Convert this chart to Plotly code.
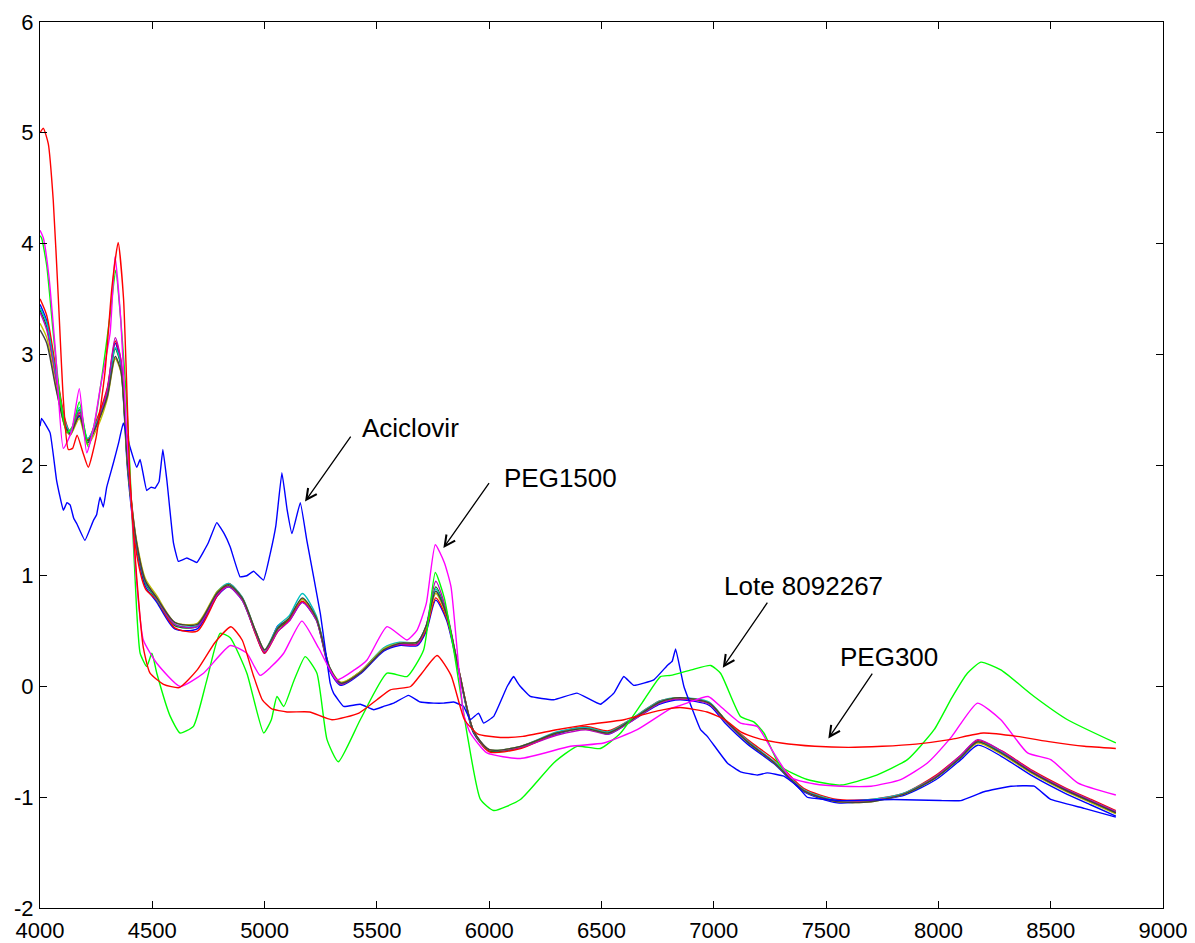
import plotly.graph_objects as go

# ---------------- data ----------------
# shared wavenumber grid of the bundle of batch spectra
bundle_x = [4000, 4030, 4070, 4110, 4135, 4175, 4212, 4260, 4300, 4335, 4360, 4390, 4430, 4470, 4520,
            4600, 4700, 4790, 4840, 4900, 4960, 5000, 5060, 5110, 5168, 5230, 5290, 5340, 5430, 5530,
            5600, 5680, 5720, 5762, 5810, 5870, 5930, 6000, 6140, 6300, 6430, 6530, 6620, 6760, 6850,
            6980, 7050, 7150, 7270, 7400, 7550, 7700, 7850, 7990, 8100, 8175, 8280, 8420, 8560, 8680, 8790]

bundle_blue = [3.45, 3.30, 2.85, 2.40, 2.28, 2.44, 2.22, 2.42, 2.68, 3.10, 2.90, 1.95, 1.25, 0.90, 0.76,
               0.52, 0.52, 0.82, 0.90, 0.78, 0.48, 0.30, 0.55, 0.60, 0.76, 0.60, 0.14, 0.01, 0.12, 0.32,
               0.37, 0.37, 0.50, 0.78, 0.60, 0.08, -0.42, -0.58, -0.55, -0.43, -0.37, -0.43, -0.33, -0.16, -0.12,
               -0.17, -0.33, -0.52, -0.70, -0.95, -1.05, -1.03, -0.98, -0.84, -0.66, -0.53, -0.63, -0.81, -0.96, -1.07, -1.17]
bundle_green = [3.40, 3.25, 2.80, 2.38, 2.30, 2.50, 2.22, 2.40, 2.65, 3.05, 2.90, 2.00, 1.28, 0.93, 0.78,
                0.55, 0.54, 0.84, 0.91, 0.79, 0.49, 0.31, 0.52, 0.61, 0.79, 0.62, 0.16, 0.02, 0.13, 0.33,
                0.38, 0.39, 0.54, 0.90, 0.66, 0.09, -0.41, -0.58, -0.55, -0.42, -0.37, -0.41, -0.32, -0.14, -0.10,
                -0.15, -0.31, -0.50, -0.69, -0.94, -1.04, -1.03, -0.97, -0.82, -0.64, -0.50, -0.60, -0.78, -0.93, -1.04, -1.14]
bundle_red = [3.50, 3.35, 2.88, 2.42, 2.30, 2.47, 2.23, 2.45, 2.70, 3.12, 2.95, 2.05, 1.20, 0.88, 0.78,
              0.53, 0.50, 0.82, 0.93, 0.80, 0.47, 0.30, 0.50, 0.60, 0.77, 0.61, 0.16, 0.03, 0.14, 0.34,
              0.38, 0.38, 0.52, 0.80, 0.62, 0.10, -0.40, -0.59, -0.56, -0.42, -0.36, -0.40, -0.31, -0.13, -0.11,
              -0.15, -0.30, -0.48, -0.66, -0.92, -1.02, -1.02, -0.96, -0.80, -0.62, -0.49, -0.58, -0.76, -0.91, -1.02, -1.12]
bundle_cyan = [3.42, 3.28, 2.82, 2.40, 2.30, 2.52, 2.24, 2.42, 2.66, 3.06, 2.92, 2.02, 1.28, 0.94, 0.79,
               0.56, 0.55, 0.86, 0.93, 0.81, 0.50, 0.33, 0.55, 0.64, 0.84, 0.64, 0.17, 0.03, 0.14, 0.35,
               0.40, 0.40, 0.55, 0.88, 0.65, 0.09, -0.40, -0.57, -0.54, -0.41, -0.37, -0.41, -0.31, -0.13, -0.10,
               -0.14, -0.30, -0.49, -0.68, -0.93, -1.03, -1.02, -0.96, -0.81, -0.63, -0.50, -0.59, -0.77, -0.92, -1.03, -1.13]
bundle_purple = [3.38, 3.22, 2.78, 2.35, 2.27, 2.48, 2.20, 2.40, 2.68, 3.15, 2.95, 2.05, 1.30, 0.95, 0.80,
                 0.56, 0.54, 0.83, 0.90, 0.78, 0.48, 0.31, 0.50, 0.59, 0.76, 0.60, 0.15, 0.02, 0.13, 0.33,
                 0.38, 0.38, 0.55, 0.95, 0.68, 0.10, -0.40, -0.57, -0.55, -0.44, -0.39, -0.43, -0.33, -0.15, -0.11,
                 -0.16, -0.31, -0.50, -0.69, -0.94, -1.04, -1.03, -0.97, -0.81, -0.62, -0.48, -0.58, -0.77, -0.92, -1.03, -1.13]
bundle_olive = [3.28, 3.15, 2.72, 2.35, 2.27, 2.42, 2.18, 2.36, 2.60, 2.96, 2.84, 2.00, 1.32, 0.97, 0.82,
                0.58, 0.57, 0.86, 0.92, 0.80, 0.50, 0.33, 0.53, 0.62, 0.79, 0.62, 0.17, 0.04, 0.14, 0.34,
                0.39, 0.40, 0.54, 0.84, 0.64, 0.10, -0.40, -0.57, -0.54, -0.42, -0.38, -0.42, -0.32, -0.14, -0.10,
                -0.15, -0.30, -0.50, -0.69, -0.94, -1.04, -1.04, -0.97, -0.82, -0.64, -0.51, -0.61, -0.79, -0.94, -1.05, -1.15]
bundle_gray = [3.22, 3.10, 2.70, 2.36, 2.28, 2.45, 2.20, 2.40, 2.62, 2.98, 2.85, 2.00, 1.30, 0.95, 0.80,
               0.58, 0.56, 0.85, 0.92, 0.80, 0.50, 0.33, 0.53, 0.62, 0.80, 0.62, 0.17, 0.03, 0.13, 0.33,
               0.39, 0.40, 0.55, 0.86, 0.65, 0.10, -0.40, -0.57, -0.54, -0.42, -0.38, -0.42, -0.32, -0.14, -0.10,
               -0.15, -0.30, -0.50, -0.69, -0.94, -1.04, -1.04, -0.97, -0.82, -0.64, -0.50, -0.60, -0.78, -0.93, -1.04, -1.14]

# PEG300
peg300_x = [4000, 4015, 4037, 4059, 4082, 4104, 4126, 4145, 4165, 4190, 4215, 4250, 4290, 4320, 4348, 4372,
            4400, 4430, 4460, 4490, 4550, 4620, 4700, 4780, 4850, 4900, 4950, 4990, 5030, 5100, 5200, 5300,
            5420, 5500, 5560, 5650, 5700, 5768, 5830, 5890, 5950, 6050, 6150, 6300, 6450, 6600, 6750, 6850,
            6970, 7050, 7120, 7200, 7300, 7450, 7600, 7750, 7900, 8050, 8200, 8350, 8500, 8650, 8790]
peg300_y = [5.00, 5.04, 4.90, 4.39, 3.49, 2.59, 2.14, 2.15, 2.27, 2.12, 1.98, 2.25, 2.85, 3.60, 4.01, 3.50,
            1.90, 1.00, 0.35, 0.12, 0.02, -0.01, 0.15, 0.40, 0.54, 0.42, 0.10, -0.12, -0.20, -0.23, -0.23, -0.30,
            -0.24, -0.12, -0.03, 0.00, 0.12, 0.28, 0.10, -0.30, -0.43, -0.46, -0.45, -0.39, -0.34, -0.30, -0.22, -0.19,
            -0.23, -0.30, -0.41, -0.47, -0.51, -0.54, -0.55, -0.54, -0.52, -0.48, -0.42, -0.45, -0.50, -0.54, -0.56]

# PEG1500
peg1500_x = [4000, 4015, 4040, 4070, 4104, 4140, 4175, 4208, 4240, 4267, 4312, 4334, 4360, 4386, 4400, 4430,
             4460, 4520, 4624, 4728, 4847, 4921, 4980, 5030, 5085, 5166, 5240, 5322, 5400, 5456, 5545, 5634,
             5679, 5720, 5760, 5800, 5830, 5886, 5916, 5990, 6139, 6362, 6510, 6659, 6808, 6880, 6975, 7030,
             7119, 7193, 7267, 7342, 7450, 7565, 7700, 7832, 7951, 8060, 8174, 8278, 8397, 8500, 8620, 8790]
peg1500_y = [4.12, 4.05, 3.70, 3.00, 2.15, 2.30, 2.69, 2.11, 2.35, 2.68, 3.19, 3.88, 3.30, 2.29, 1.86, 0.95,
             0.42, 0.21, 0.00, 0.12, 0.37, 0.30, 0.10, 0.18, 0.30, 0.59, 0.35, 0.06, 0.15, 0.24, 0.54, 0.42,
             0.51, 0.75, 1.28, 1.12, 0.90, -0.25, -0.42, -0.60, -0.65, -0.54, -0.51, -0.39, -0.20, -0.15, -0.09, -0.18,
             -0.33, -0.36, -0.60, -0.82, -0.88, -0.90, -0.90, -0.84, -0.69, -0.45, -0.15, -0.30, -0.60, -0.66, -0.87, -0.98]

# Lote 8092267
lote_x = [4000, 4007, 4030, 4059, 4090, 4119, 4145, 4175, 4215, 4250, 4282, 4315, 4337, 4360, 4385, 4400,
          4430, 4446, 4475, 4498, 4520, 4580, 4624, 4683, 4743, 4802, 4847, 4921, 4996, 5030, 5055, 5085,
          5130, 5181, 5233, 5278, 5328, 5426, 5545, 5634, 5708, 5760, 5800, 5842, 5901, 5961, 6020, 6139,
          6287, 6391, 6495, 6585, 6680, 6763, 6808, 6900, 6986, 7030, 7119, 7178, 7223, 7297, 7416, 7565,
          7712, 7862, 7981, 8060, 8129, 8189, 8278, 8426, 8575, 8790]
lote_y = [4.07, 4.05, 3.80, 3.19, 2.60, 2.29, 2.35, 2.57, 2.16, 2.45, 2.89, 3.40, 3.76, 3.30, 2.60, 1.98,
          0.70, 0.30, 0.18, 0.30, 0.12, -0.27, -0.42, -0.36, 0.06, 0.48, 0.44, 0.12, -0.42, -0.30, -0.09, -0.18,
          0.05, 0.27, 0.12, -0.48, -0.68, -0.30, 0.12, 0.09, 0.33, 1.03, 0.80, 0.33, -0.42, -1.02, -1.12, -1.02,
          -0.69, -0.54, -0.56, -0.42, -0.15, 0.09, 0.10, 0.15, 0.19, 0.12, -0.27, -0.32, -0.42, -0.72, -0.84, -0.89,
          -0.81, -0.66, -0.39, -0.10, 0.12, 0.22, 0.15, -0.09, -0.30, -0.51]

# Aciclovir
acic_x = [4000, 4007, 4045, 4074, 4104, 4120, 4134, 4150, 4164, 4200, 4238, 4252, 4267, 4282, 4297, 4327,
          4350, 4371, 4390, 4401, 4431, 4446, 4475, 4495, 4512, 4530, 4547, 4565, 4594, 4616, 4654, 4698,
          4750, 4787, 4820, 4847, 4891, 4921, 4951, 4995, 5025, 5050, 5077, 5100, 5122, 5159, 5188, 5248,
          5292, 5307, 5352, 5426, 5486, 5530, 5575, 5641, 5693, 5753, 5797, 5842, 5886, 5916, 5953, 5975,
          6020, 6080, 6109, 6125, 6139, 6183, 6287, 6391, 6495, 6555, 6599, 6644, 6733, 6793, 6815, 6830,
          6867, 6941, 6971, 7060, 7119, 7193, 7238, 7312, 7372, 7416, 7565, 7800, 8010, 8100, 8203, 8323,
          8426, 8500, 8649, 8790]
acic_y = [2.35, 2.42, 2.29, 1.86, 1.59, 1.66, 1.64, 1.52, 1.47, 1.32, 1.50, 1.55, 1.71, 1.62, 1.80, 2.02,
          2.20, 2.38, 2.25, 2.16, 1.98, 2.05, 1.77, 1.80, 1.79, 1.85, 2.14, 1.86, 1.30, 1.13, 1.16, 1.12,
          1.30, 1.48, 1.38, 1.26, 0.99, 1.00, 1.04, 0.96, 1.20, 1.45, 1.93, 1.60, 1.38, 1.66, 1.32, 0.66,
          0.03, -0.06, -0.18, -0.16, -0.21, -0.18, -0.15, -0.08, -0.14, -0.15, -0.15, -0.14, -0.18, -0.30, -0.24, -0.33,
          -0.27, 0.00, 0.09, 0.04, 0.00, -0.09, -0.12, -0.06, -0.16, -0.06, 0.09, 0.01, 0.06, 0.19, 0.23, 0.34,
          0.00, -0.39, -0.45, -0.69, -0.77, -0.80, -0.78, -0.81, -0.90, -1.00, -1.03, -1.02, -1.03, -1.03, -0.95, -0.90,
          -0.90, -1.02, -1.10, -1.18]

x_ticks = [4000, 4500, 5000, 5500, 6000, 6500, 7000, 7500, 8000, 8500, 9000]
y_ticks = [-2, -1, 0, 1, 2, 3, 4, 5, 6]

labels = ["Aciclovir", "PEG1500", "Lote 8092267", "PEG300"]
label_pos = [(5425, 2.33), (6056, 1.88), (7035, 0.91), (7553, 0.27)]
arrow_tail = [(5388, 2.27), (6004, 1.85), (7243, 0.77), (7710, 0.13)]
arrow_head = [(5180, 1.67), (5796, 1.25), (7040, 0.17), (7510, -0.47)]

# ---------------- figure ----------------
fig = go.Figure()

bundle = [
    (bundle_blue, "#0000FF"), (bundle_green, "#008000"), (bundle_red, "#FF0000"),
    (bundle_cyan, "#00BFBF"), (bundle_purple, "#BF00BF"), (bundle_olive, "#BFBF00"),
    (bundle_gray, "#404040"),
]
for ys, col in bundle:
    fig.add_trace(go.Scatter(x=bundle_x, y=ys, mode="lines",
                             line=dict(color=col, width=1.4, shape="spline", smoothing=0.7),
                             hoverinfo="skip", showlegend=False))

fig.add_trace(go.Scatter(x=acic_x, y=acic_y, mode="lines", name="Aciclovir",
                         line=dict(color="#0000FF", width=1.4, shape="spline", smoothing=0.3),
                         showlegend=False))
fig.add_trace(go.Scatter(x=lote_x, y=lote_y, mode="lines", name="Lote 8092267",
                         line=dict(color="#00FF00", width=1.4, shape="spline", smoothing=0.5),
                         showlegend=False))
fig.add_trace(go.Scatter(x=peg1500_x, y=peg1500_y, mode="lines", name="PEG1500",
                         line=dict(color="#FF00FF", width=1.4, shape="spline", smoothing=0.5),
                         showlegend=False))
fig.add_trace(go.Scatter(x=peg300_x, y=peg300_y, mode="lines", name="PEG300",
                         line=dict(color="#FF0000", width=1.4, shape="spline", smoothing=0.5),
                         showlegend=False))

for txt, (tx, ty), (ax_, ay_), (hx, hy) in zip(labels, label_pos, arrow_tail, arrow_head):
    fig.add_annotation(x=tx, y=ty, text=txt, showarrow=False, xanchor="left", yanchor="middle",
                       font=dict(family="Liberation Sans, Arial", size=26, color="black"))
    fig.add_annotation(x=hx, y=hy, ax=ax_, ay=ay_, axref="x", ayref="y", xref="x", yref="y",
                       text="", showarrow=True, arrowhead=5, arrowsize=1.6, arrowwidth=1.3,
                       arrowcolor="black")

axis_common = dict(showline=True, linecolor="black", linewidth=1, mirror="ticks",
                   ticks="inside", ticklen=7, tickcolor="black", showgrid=False, zeroline=False,
                   automargin=False,
                   tickfont=dict(family="Liberation Sans, Arial", size=22, color="black"))

# the page body adds an 8 px offset; the figure is sized so the plot box
# lands at the same place as in the reference picture
fig.update_layout(
    width=1187, height=935,
    margin=dict(l=32, r=32, t=14, b=35),
    paper_bgcolor="white", plot_bgcolor="white",
    showlegend=False,
    xaxis=dict(range=[4000, 9000], tickvals=x_ticks, ticktext=[str(v) for v in x_ticks],
               ticklabelstandoff=3, **axis_common),
    yaxis=dict(range=[-2, 6], tickvals=y_ticks, ticktext=[str(v) for v in y_ticks],
               ticklabelstandoff=1, **axis_common),
)

fig.write_html("out.html")
